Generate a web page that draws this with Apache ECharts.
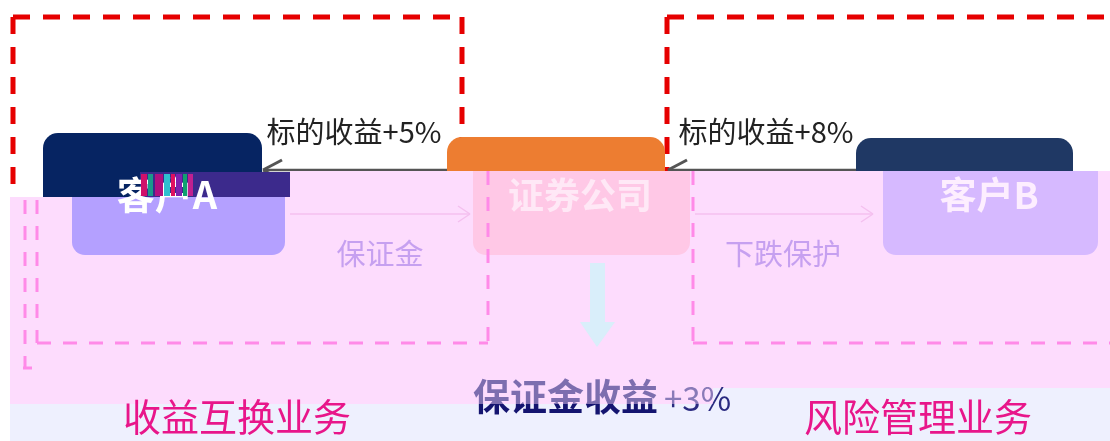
<!DOCTYPE html>
<html><head><meta charset="utf-8">
<script src="https://cdn.jsdelivr.net/npm/echarts@6/dist/echarts.min.js"></script>
<style>html,body{margin:0;padding:0;background:#fff}#c{width:1110px;height:441px}</style>
</head><body><div id="c"></div>
<script>
// ---- diagram content ----
const nodes = ['客户A', '证券公司', '客户B'];
const flowTop = ['标的收益+5%', '标的收益+8%'];
const flowBottom = ['保证金', '下跌保护'];
const resultMain = '保证金收益';
const resultRate = '+3%';
const groups = ['收益互换业务', '风险管理业务'];

// ---- layout (positions / styles) ----
const F = '"Noto Sans CJK SC","Noto Sans",sans-serif';
const nodeBox = [
  {x: 43, y: 133, w: 219, h: 82, fill: '#062462'},
  {x: 447, y: 137, w: 218, h: 82, fill: '#ed7d31'},
  {x: 856, y: 138, w: 217, h: 82, fill: '#1f3864'}
];
const ghostBox = [
  {x: 72, y: 197, w: 213, h: 58, fill: '#b4a0ff', tx: 167, txt: '#ffffff', fs: 38},
  {x: 473, y: 171, w: 217, h: 84, fill: '#ffc8e6', tx: 580, txt: '#ffe8f6', fs: 36},
  {x: 883, y: 171, w: 215, h: 84, fill: '#d6b9ff', tx: 989, txt: '#fdeeff', fs: 37}
];
const g = [];
function line(x1, y1, x2, y2, stroke, lw, dash) {
  g.push({type: 'line', shape: {x1, y1, x2, y2}, style: {stroke, lineWidth: lw, lineDash: dash || null}});
}
function text(t, x, y, fill, font, align) {
  g.push({type: 'text', style: {text: t, x, y, fill, font, textAlign: align || 'center', textVerticalAlign: 'middle'}});
}
// lavender band
g.push({type: 'rect', shape: {x: 10, y: 380, width: 1100, height: 61}, style: {fill: '#eef0fe'}});
// red dashed boxes
const red = '#e60000', rd = [17, 13];
line(13, 17, 462, 17, red, 5, rd); line(13, 17, 13, 200, red, 5, rd); line(462, 17, 462, 175, red, 5, rd);
line(667, 17, 1112, 17, red, 5, rd); line(667, 17, 667, 175, red, 5, rd);
// original boxes
nodeBox.forEach((b, i) => {
  g.push({type: 'rect', shape: {x: b.x, y: b.y, width: b.w, height: b.h, r: 15}, style: {fill: b.fill}});
});
// top arrows
line(447, 170, 264, 170, '#555', 2.5); line(263, 170, 282, 160, '#555', 3); line(263, 170, 282, 180, '#555', 3);
line(856, 170, 669, 170, '#555', 2.5); line(668, 170, 687, 160, '#555', 3); line(668, 170, 687, 180, '#555', 3);
text(flowTop[0], 354, 132, '#222', '29px ' + F);
text(flowTop[1], 766, 132, '#222', '29px ' + F);
// pink overlay
g.push({type: 'polygon', shape: {points: [[10, 197], [290, 197], [290, 171], [1110, 171], [1110, 388], [713, 388], [713, 404], [10, 404]]}, style: {fill: '#fddcfd'}});
// glitch strip
g.push({type: 'rect', shape: {x: 140, y: 172, width: 150, height: 25}, style: {fill: '#3c2a8c'}});
// ghost boxes
ghostBox.forEach((b, i) => {
  g.push({type: 'rect', shape: {x: b.x, y: b.y, width: b.w, height: b.h, r: [0, 0, 13, 13]}, style: {fill: b.fill}});
  text(nodes[i], b.tx, 195, b.txt, 'bold ' + b.fs + 'px ' + F);
});
[['#d0106a', 141, 6], ['#1a9a8a', 148, 5], ['#b01080', 155, 8], ['#30c0d0', 164, 6], ['#e01060', 171, 4], ['#8020b0', 176, 6], ['#10a070', 183, 4], ['#c02090', 188, 5]].forEach(s => {
  g.push({type: 'rect', shape: {x: s[1], y: 174, width: s[2], height: 22}, style: {fill: s[0]}});
});
// ghost arrows
const pa = '#f4c0ef';
line(290, 214, 470, 214, pa, 1.5); line(458, 206, 470, 214, pa, 1.5); line(458, 222, 470, 214, pa, 1.5);
line(695, 214, 873, 214, pa, 1.5); line(861, 206, 873, 214, pa, 1.5); line(861, 222, 873, 214, pa, 1.5);
text(flowBottom[0], 380, 254, '#c6a0f0', '29px ' + F);
text(flowBottom[1], 783, 254, '#c6a0f0', '29px ' + F);
// ghost dashed boxes
const pk = '#ff8ae8', pd = [14, 12];
line(37, 200, 37, 343, pk, 3, pd); line(37, 343, 488, 343, pk, 3, pd); line(488, 171, 488, 343, pk, 3, pd);
line(25, 200, 25, 368, pk, 3, pd); line(23, 368, 32, 368, pk, 3);
line(693, 171, 693, 343, pk, 3, pd); line(693, 343, 1112, 343, pk, 3, pd);
// down arrow
g.push({type: 'polygon', shape: {points: [[590, 263], [605, 263], [605, 322], [615, 322], [597, 347], [580, 322], [590, 322]]}, style: {fill: '#d9eefa'}});
// result text
text(resultMain, 473, 397, '#141470', 'bold 37px ' + F, 'left');
text(resultRate, 664, 398, '#2a2a80', '33px ' + F, 'left');
g.push({type: 'rect', shape: {x: 470, y: 374, width: 243, height: 30}, style: {fill: 'rgba(253,220,253,0.45)'}});
// group labels
text(groups[0], 237, 417, '#e8168a', '38px ' + F);
text(groups[1], 918, 417, '#e8168a', '38px ' + F);

const chart = echarts.init(document.getElementById('c'));
chart.setOption({animation: false, graphic: g});
</script></body></html>
